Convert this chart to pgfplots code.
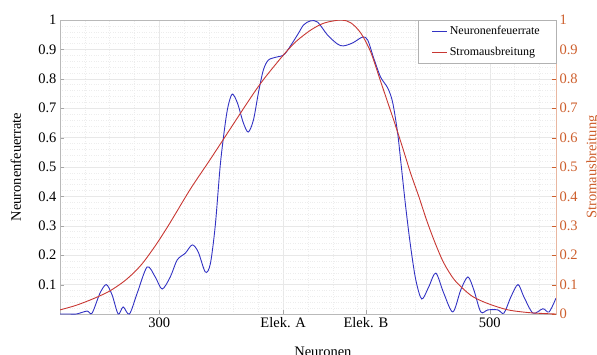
\documentclass[border=0pt]{standalone}
\usepackage{fontspec}
\setmainfont{Liberation Serif}
\usepackage{pgfplots}
\pgfplotsset{compat=1.18}
\definecolor{nblue}{RGB}{50,50,195}
\definecolor{nred}{RGB}{200,55,50}
\definecolor{norange}{RGB}{205,95,45}
\begin{document}
\begin{tikzpicture}
\pgfplotsset{
  common/.style={
    scale only axis, width=496pt, height=294pt,
    xmin=240, xmax=540, ymin=0, ymax=1,
    at={(0,0)}, anchor=south west,
    /pgf/number format/assume math mode=true,
    tick label style={font=\fontsize{14.5}{16}\selectfont},
    label style={font=\fontsize{14.5}{16}\selectfont},
    tick align=inside, major tick length=4pt,
  }
}
\begin{axis}[common,
  axis line style={gray!55},
  xtick={300,375,425,500}, xticklabels={300,Elek. A,Elek. B,500},
  minor xtick={255,270,285,315,330,345,360,390,405,420,440,455,470,485,515,530},
  ytick={0.1,0.2,0.3,0.4,0.5,0.6,0.7,0.8,0.9,1},
  minor ytick={0.02,0.04,...,0.99},
  xtick pos=bottom, ytick pos=left,
  tick style={gray!70}, minor tick length=0pt,
  grid=both,
  major grid style={gray!18, line width=0.5pt},
  minor grid style={gray!14, dotted, line width=0.4pt},
  xlabel={Neuronen}, ylabel={Neuronenfeuerrate},
  xlabel style={at={(axis description cs:0.53,-0.129)}, anchor=center},
  ylabel style={at={(axis description cs:-0.089,0.5)}, anchor=center},
]
\addplot[nblue, line width=0.9pt, smooth] coordinates {
(240,0.0) (246,0.0) (250,0.0) (256.4,0.01) (259.4,0.003) (264.2,0.071) (268,0.10)
(271.5,0.065) (275.2,0.0) (278.2,0.024) (282,0.0) (286.7,0.071) (292.7,0.160)
(297.6,0.126) (301.8,0.085) (306.7,0.126) (310.9,0.184) (315.8,0.207) (320,0.235)
(323.6,0.211) (327.9,0.143) (330.9,0.17) (333.9,0.30) (337,0.51) (340,0.65)
(341.8,0.71) (344.2,0.748) (347.3,0.718) (350.9,0.65) (353.9,0.619) (357,0.66)
(360,0.752) (363,0.83) (366.1,0.864) (371,0.874) (376,0.885) (383.6,0.949)
(387.3,0.983) (391.5,0.997) (395.8,0.993) (401.8,0.949) (407.9,0.918) (411.5,0.912)
(417,0.922) (423,0.942) (426.1,0.932) (429.7,0.871) (433.9,0.806) (438.2,0.769)
(441.2,0.72) (444.2,0.616) (446.1,0.52) (449.1,0.364) (452.1,0.228) (455.2,0.116)
(458.8,0.051) (463,0.092) (467.3,0.139) (472.1,0.071) (477.6,0.007) (482.4,0.082)
(486.7,0.126) (490.3,0.082) (494.5,0.007) (498.8,0.014) (504.8,0.014) (508.5,0.003)
(512.7,0.058) (517,0.1) (520.6,0.058) (526.1,0.003) (532.1,0.018) (535.8,0.007)
(540,0.054)
};
\end{axis}
\begin{axis}[common,
  axis x line=none, axis y line*=right,
  axis line style={norange!45},
  ytick={0,0.1,0.2,0.3,0.4,0.5,0.6,0.7,0.8,0.9,1},
  yticklabel style={text=norange},
  ytick style={norange},
  ylabel={Stromausbreitung},
  ylabel style={at={(axis description cs:1.0746,0.5)}, anchor=center, text=norange},
  legend style={at={(1,1)}, anchor=north east, draw=gray!60, line width=0.5pt,
    font=\fontsize{12}{13}\selectfont, inner xsep=14pt, inner ysep=4pt,
    row sep=7pt, cells={anchor=west}},
]
\addlegendimage{nblue, line width=0.9pt, legend image code/.code={\draw[nblue, line width=0.9pt] (0pt,0pt) -- (15pt,0pt);}}
\addlegendentry{Neuronenfeuerrate}
\addlegendimage{nred, line width=0.9pt, legend image code/.code={\draw[nred, line width=0.9pt] (0pt,0pt) -- (15pt,0pt);}}
\addlegendentry{Stromausbreitung}
\addplot[nred, line width=0.9pt, smooth, forget plot] coordinates {
(240,0.014) (250,0.03) (261,0.054) (270,0.078) (278,0.108) (284,0.137) (290,0.173)
(298,0.235) (306,0.305) (314,0.38) (320,0.435) (331,0.527) (343,0.63) (355,0.733)
(363,0.797) (375,0.88) (383,0.928) (392,0.967) (400,0.99) (410,1.0) (416,0.99)
(422,0.955) (428,0.89) (434,0.79) (441.8,0.66) (447,0.57) (452,0.48) (457,0.40)
(462,0.315) (467,0.24) (472,0.175) (478,0.12) (484,0.085) (490,0.058) (499,0.035)
(511,0.014) (525,0.004) (540,0.0)
};
\end{axis}
\pgfresetboundingbox
\path[use as bounding box] (-60pt,-40pt) rectangle (537pt,314pt);
\end{tikzpicture}
\end{document}
